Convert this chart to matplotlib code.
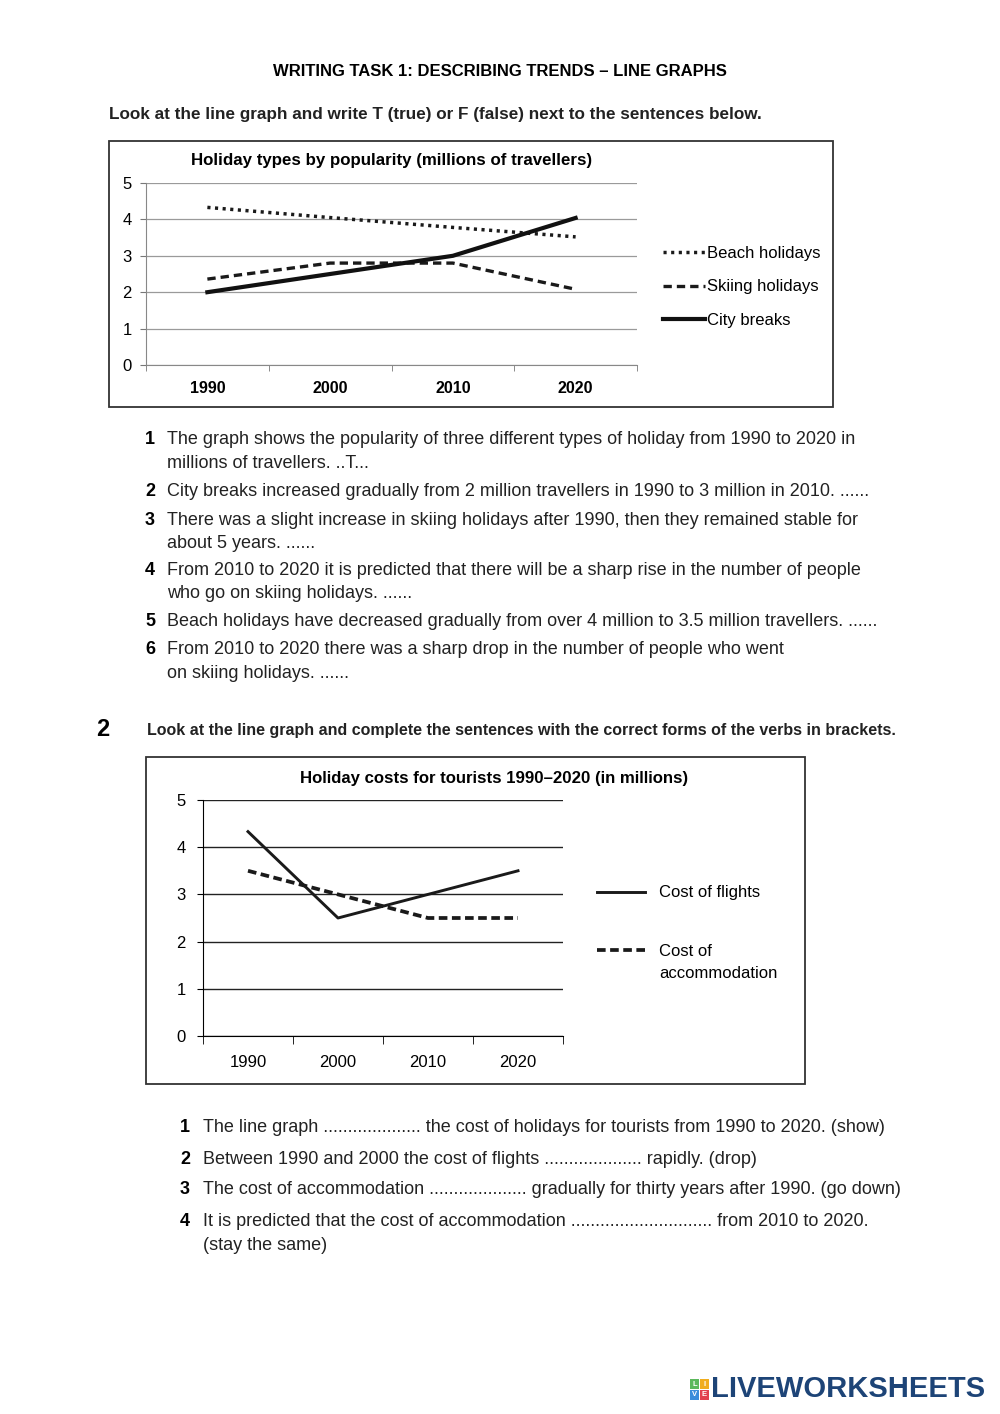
import matplotlib.pyplot as plt
from matplotlib.patches import Rectangle
from matplotlib.lines import Line2D

plt.rcParams['font.family'] = ['Liberation Sans', 'DejaVu Sans']
narrow = ['Liberation Sans Narrow', 'Liberation Sans', 'DejaVu Sans']

W, H = 1000, 1414

# chart 1 data (millions of travellers)
years = ['1990', '2000', '2010', '2020']
beach = [4.33, 4.05, 3.78, 3.52]
skiing = [2.36, 2.8, 2.8, 2.08]
city = [2.0, 2.5, 3.0, 4.04]

# chart 2 data (in millions)
flights = [4.33, 2.5, 3.0, 3.5]
accommodation = [3.5, 3.0, 2.5, 2.5]

part1 = [
    ('1', ['The graph shows the popularity of three different types of holiday from 1990 to 2020 in',
           'millions of travellers. ..T...']),
    ('2', ['City breaks increased gradually from 2 million travellers in 1990 to 3 million in 2010. ......']),
    ('3', ['There was a slight increase in skiing holidays after 1990, then they remained stable for',
           'about 5 years. ......']),
    ('4', ['From 2010 to 2020 it is predicted that there will be a sharp rise in the number of people',
           'who go on skiing holidays. ......']),
    ('5', ['Beach holidays have decreased gradually from over 4 million to 3.5 million travellers. ......']),
    ('6', ['From 2010 to 2020 there was a sharp drop in the number of people who went',
           'on skiing holidays. ......']),
]
part1_y = [439, 492, 520, 570, 622, 650]

part2 = [
    ('1', ['The line graph .................... the cost of holidays for tourists from 1990 to 2020. (show)']),
    ('2', ['Between 1990 and 2000 the cost of flights .................... rapidly. (drop)']),
    ('3', ['The cost of accommodation .................... gradually for thirty years after 1990. (go down)']),
    ('4', ['It is predicted that the cost of accommodation ............................. from 2010 to 2020.',
           '(stay the same)']),
]
part2_y = [1127, 1160, 1190, 1221]

fig = plt.figure(figsize=(10, 14.14), dpi=100)


def fx(x):
    return x / W


def fy(y):
    return 1 - y / H


def box(x0, y0, x1, y1):
    fig.patches.append(Rectangle((fx(x0), fy(y1)), fx(x1) - fx(x0), fy(y0) - fy(y1),
                                 transform=fig.transFigure, fill=False, lw=1.3, ec='#333333'))


def txt(x, y, s, **kw):
    fig.text(fx(x), fy(y), s, va='center', **kw)


def make_axes(x0, y0, x1, y1):
    return fig.add_axes([fx(x0), fy(y1), fx(x1) - fx(x0), fy(y0) - fy(y1)])


# header
txt(500, 72, 'WRITING TASK 1: DESCRIBING TRENDS \u2013 LINE GRAPHS', ha='center',
    fontsize=12, fontweight='bold', family=narrow)
txt(109, 114, 'Look at the line graph and write T (true) or F (false) next to the sentences below.',
    fontsize=12.3, fontweight='bold', family=narrow, color='#222222')

# chart 1
box(109, 141, 833, 407)
ax1 = make_axes(146, 183, 637, 365)
xs = list(range(len(years)))
ax1.plot(xs, beach, color='#1a1a1a', lw=2.5, linestyle=(0, (0.9, 1.3)), label='Beach holidays')
ax1.plot(xs, skiing, color='#1a1a1a', lw=2.4, linestyle=(0, (2.5, 1.5)), label='Skiing holidays')
ax1.plot(xs, city, color='#111111', lw=3.0, label='City breaks')
ax1.set_xlim(-0.5, 3.5)
ax1.set_ylim(0, 5)
ax1.set_yticks(range(6))
ax1.yaxis.grid(True, color='#9a9a9a', lw=0.9)
ax1.set_xticks(xs)
ax1.set_xticklabels(years, fontsize=11.5, fontweight='bold')
ax1.set_xticks([-0.5, 0.5, 1.5, 2.5, 3.5], minor=True)
ax1.tick_params(axis='x', which='major', length=0, pad=11.5)
ax1.tick_params(axis='x', which='minor', length=4, color='#777777')
ax1.tick_params(axis='y', length=4.3, pad=6, labelsize=12, color='#777777')
for s in ['top', 'right']:
    ax1.spines[s].set_visible(False)
for s in ['left', 'bottom']:
    ax1.spines[s].set_color('#888888')
txt(392, 161, 'Holiday types by popularity (millions of travellers)', ha='center',
    fontsize=12.2, fontweight='bold', family=narrow)
ax1.legend(loc='upper left', bbox_to_anchor=(fx(663), fy(246)), bbox_transform=fig.transFigure,
           frameon=False, fontsize=12, handlelength=2.5, handletextpad=0.12,
           labelspacing=1.11, borderpad=0, borderaxespad=0)

# part 1 sentences
for (num, lines), y in zip(part1, part1_y):
    txt(145, y, num, fontsize=13, fontweight='bold', family=narrow)
    for i, line in enumerate(lines):
        txt(167, y + 24 * i, line, fontsize=13, family=narrow, color='#222222')

# section 2 heading
txt(96, 729, '2', fontsize=17, fontweight='heavy')
txt(147, 731, 'Look at the line graph and complete the sentences with the correct forms of the verbs in brackets.',
    fontsize=11.55, fontweight='bold', family=narrow, color='#222222')

# chart 2
box(146, 757, 805, 1084)
ax2 = make_axes(203, 800, 563, 1036)
ax2.plot(xs, flights, color='#1a1a1a', lw=2.1)
ax2.plot(xs, accommodation, color='#1a1a1a', lw=2.7, linestyle=(0, (2.3, 1.2)))
ax2.set_xlim(-0.5, 3.5)
ax2.set_ylim(0, 5)
ax2.set_yticks(range(6))
ax2.yaxis.grid(True, color='#222222', lw=1.0)
ax2.set_xticks(xs)
ax2.set_xticklabels(years, fontsize=12)
ax2.set_xticks([-0.5, 0.5, 1.5, 2.5, 3.5], minor=True)
ax2.tick_params(axis='x', which='major', length=0, pad=14)
ax2.tick_params(axis='x', which='minor', length=6)
ax2.tick_params(axis='y', length=4.3, pad=8, labelsize=12)
for s in ['top', 'right']:
    ax2.spines[s].set_visible(False)
txt(494, 778, 'Holiday costs for tourists 1990\u20132020 (in millions)', ha='center',
    fontsize=12.1, fontweight='bold', family=narrow)

# chart 2 legend keys
fig.add_artist(Line2D([fx(597), fx(645)], [fy(892), fy(892)], transform=fig.transFigure,
                      color='#1a1a1a', lw=2.1))
fig.add_artist(Line2D([fx(597), fx(645)], [fy(950), fy(950)], transform=fig.transFigure,
                      color='#1a1a1a', lw=2.7, linestyle=(0, (2.3, 1.2))))
txt(659, 892, 'Cost of flights', fontsize=12)
txt(659, 952, 'Cost of', fontsize=12)
txt(659, 973, 'accommodation', fontsize=12)

# part 2 sentences
for (num, lines), y in zip(part2, part2_y):
    txt(180, y, num, fontsize=13, fontweight='bold', family=narrow)
    for i, line in enumerate(lines):
        txt(203, y + 24 * i, line, fontsize=13, family=narrow, color='#222222')

# logo
colors = ['#5cb85c', '#f0ad1e', '#3a8ddb', '#e2404f']
letters = ['L', 'I', 'V', 'E']
for k, (c, l) in enumerate(zip(colors, letters)):
    x0 = 690 + 10 * (k % 2)
    y0 = 1379 + 11 * (k // 2)
    fig.patches.append(Rectangle((fx(x0), fy(y0 + 10)), fx(9), 10 / H, transform=fig.transFigure,
                                 fc=c, ec='none'))
    fig.text(fx(x0 + 4.5), fy(y0 + 5), l, ha='center', va='center', fontsize=5.5,
             fontweight='bold', color='white')
txt(711, 1389, 'LIVEWORKSHEETS', fontsize=21, fontweight='bold', color='#1d4477')

fig.savefig('out.png', dpi=100)
